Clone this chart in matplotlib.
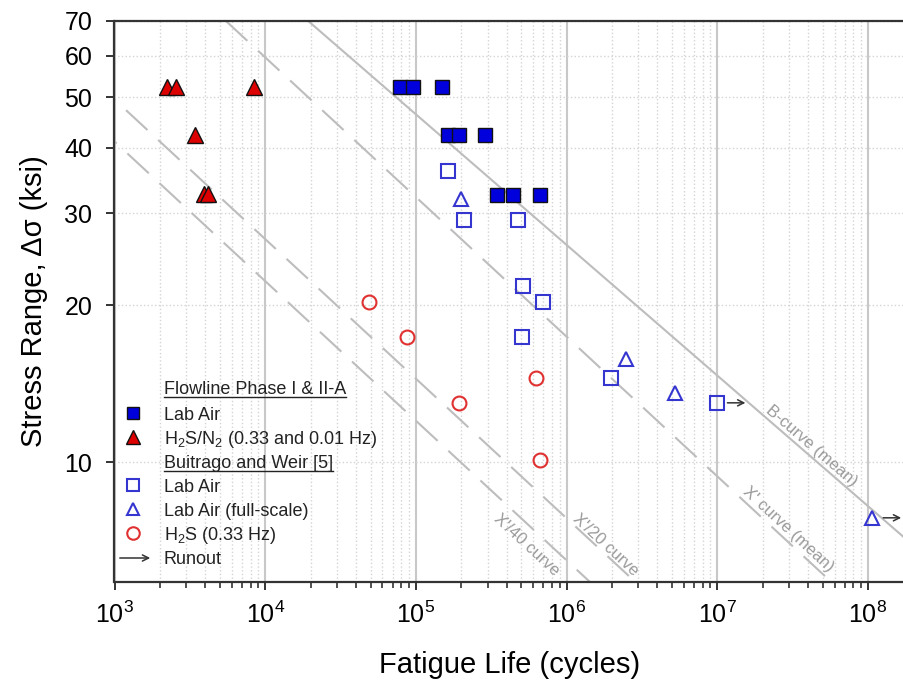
import matplotlib.pyplot as plt
import numpy as np
from matplotlib.ticker import LogLocator, FixedLocator, FixedFormatter, NullFormatter, NullLocator
from matplotlib.lines import Line2D

plt.rcParams['font.family'] = ['Liberation Sans', 'DejaVu Sans']
plt.rcParams['mathtext.fontset'] = 'custom'
plt.rcParams['mathtext.rm'] = 'Liberation Sans'
plt.rcParams['mathtext.it'] = 'Liberation Sans:italic'
plt.rcParams['mathtext.bf'] = 'Liberation Sans:bold'

# Flowline Phase I & II-A
flow_air_N = [78300, 96100, 149700, 164000, 194000, 287700, 343600, 442000, 665000]
flow_air_S = [52.4, 52.4, 52.4, 42.4, 42.4, 42.4, 32.5, 32.5, 32.5]
flow_h2s_N = [2220, 2560, 8440, 3420, 3930, 4190]
flow_h2s_S = [52.4, 52.4, 52.4, 42.4, 32.7, 32.7]

# Buitrago and Weir [5]
bw_air_N = [164000, 208000, 473000, 511000, 700000, 506000, 1.96e6, 9.9e6]
bw_air_S = [36.2, 29.1, 29.1, 21.8, 20.25, 17.4, 14.5, 13.0]
bw_full_N = [199000, 2.47e6, 5.25e6, 1.07e8]
bw_full_S = [32.0, 15.8, 13.6, 7.83]
bw_h2s_N = [48600, 87700, 194000, 627000, 665000]
bw_h2s_S = [20.3, 17.4, 13.0, 14.5, 10.1]

runout_N = [9.9e6, 1.07e8]
runout_S = [13.0, 7.83]

# S-N design curves (end points)
b_curve_N = [19300, 3.81e8]
b_curve_S = [70, 5.9]
xp_curve_N = [5490, 5.71e7]
xp_curve_S = [70, 5.9]
xp20_curve_N = [274, 2.86e6]
xp20_curve_S = [70, 5.9]
xp40_curve_N = [137, 1.43e6]
xp40_curve_S = [70, 5.9]

y_ticks = [10, 20, 30, 40, 50, 60, 70]

W, H = 904, 692
fig = plt.figure(figsize=(W / 100, H / 100), dpi=100)
x0, x1, y0, y1 = 114.5, 904, 21, 582
ax = fig.add_axes([x0 / W, 1 - y1 / H, (x1 - x0) / W, (y1 - y0) / H])
ax.set_xscale('log')
ax.set_yscale('log')
ax.set_xlim(1e3, 10 ** 8.239)
ax.set_ylim(5.9, 70)

# grid
ax.xaxis.set_major_locator(LogLocator(base=10, numticks=12))
ax.xaxis.set_minor_locator(LogLocator(base=10, subs=np.arange(2, 10), numticks=12))
ax.xaxis.set_minor_formatter(NullFormatter())
ax.yaxis.set_major_locator(FixedLocator(y_ticks))
ax.yaxis.set_major_formatter(FixedFormatter([str(v) for v in y_ticks]))
ax.yaxis.set_minor_locator(NullLocator())
ax.grid(which='major', axis='x', color='#c8c8c8', lw=1.5, ls='-')
ax.grid(which='minor', axis='x', color='#d4d4d4', lw=1, ls=':')
ax.grid(which='major', axis='y', color='#d4d4d4', lw=1, ls=':')
ax.set_axisbelow(True)

for s in ['left', 'bottom', 'top']:
    ax.spines[s].set_color('#333333')
    ax.spines[s].set_linewidth(1.6)
ax.spines['right'].set_visible(False)
ax.tick_params(which='major', direction='out', length=6, width=1.4, labelsize=18, color='#333333')
ax.tick_params(which='minor', direction='out', length=4, width=1.2, color='#333333')
ax.tick_params(axis='x', which='major', pad=8)
ax.tick_params(axis='y', which='major', pad=10)

# curves
curve_col = '#bdbdbd'
ax.plot(b_curve_N, b_curve_S, color=curve_col, lw=1.5, zorder=1)
for cn, cs in [(xp_curve_N, xp_curve_S), (xp20_curve_N, xp20_curve_S), (xp40_curve_N, xp40_curve_S)]:
    ax.plot(cn, cs, color=curve_col, lw=1.5, dashes=(14, 7), zorder=1)

lab_col = '#9a9a9a'
ax.text(10 ** 7.628, 10.73, 'B-curve (mean)', rotation=-40.8, rotation_mode='anchor',
        ha='center', va='center', fontsize=12, color=lab_col)
ax.text(10 ** 7.469, 7.44, "X' curve (mean)", rotation=-42.75, rotation_mode='anchor',
        ha='center', va='center', fontsize=12, color=lab_col)
ax.text(10 ** 6.261, 6.96, "X'/20 curve", rotation=-42.75, rotation_mode='anchor',
        ha='center', va='center', fontsize=12, color=lab_col)
ax.text(10 ** 5.737, 6.96, "X'/40 curve", rotation=-42.75, rotation_mode='anchor',
        ha='center', va='center', fontsize=12, color=lab_col)

# data
blue_f = '#0000dd'
red_f = '#dd0000'
blue_o = '#3535d0'
red_o = '#e03030'
ax.plot(flow_air_N, flow_air_S, 's', ms=10, mfc=blue_f, mec='#111111', mew=1, ls='none', zorder=3)
ax.plot(flow_h2s_N, flow_h2s_S, '^', ms=11, mfc=red_f, mec='#111111', mew=1, ls='none', zorder=3)
ax.plot(bw_air_N, bw_air_S, 's', ms=10, mfc='none', mec=blue_o, mew=1.5, ls='none', zorder=3)
ax.plot(bw_full_N, bw_full_S, '^', ms=10, mfc='none', mec=blue_o, mew=1.5, ls='none', zorder=3)
ax.plot(bw_h2s_N, bw_h2s_S, 'o', ms=10, mfc='none', mec=red_o, mew=1.5, ls='none', zorder=3)
for n, s in zip(runout_N, runout_S):
    ax.annotate('', xy=(n * 1.62, s), xytext=(n * 1.13, s),
                arrowprops=dict(arrowstyle='->', color='#333333', lw=1.1, mutation_scale=11))

ax.set_xlabel('Fatigue Life (cycles)', fontsize=21, labelpad=17)
ax.set_ylabel('Stress Range, \u0394\u03c3 (ksi)', fontsize=21, labelpad=12)

# legend drawn by hand
def ax_x(px):
    return (px - x0) / (x1 - x0)

def ax_y(py):
    return (y1 - py) / (y1 - y0)

mk_x = ax_x(133)
tx_x = ax_x(164)
rows = [388, 413, 437, 462, 485, 509, 533, 558]
legend_items = [
    ('Flowline Phase I & II-A', None),
    ('Lab Air', dict(marker='s', ms=9, mfc=blue_f, mec='#111111', mew=1)),
    ('H$_2$S/N$_2$ (0.33 and 0.01 Hz)', dict(marker='^', ms=10, mfc=red_f, mec='#111111', mew=1)),
    ('Buitrago and Weir [5]', None),
    ('Lab Air', dict(marker='s', ms=9, mfc='none', mec=blue_o, mew=1.5)),
    ('Lab Air (full-scale)', dict(marker='^', ms=9, mfc='none', mec=blue_o, mew=1.5)),
    ('H$_2$S (0.33 Hz)', dict(marker='o', ms=9, mfc='none', mec=red_o, mew=1.5)),
    ('Runout', 'arrow'),
]
headers = []
for (label, style), py in zip(legend_items, rows):
    t = ax.text(tx_x, ax_y(py + 6.5), label, transform=ax.transAxes, fontsize=13,
                ha='left', va='baseline', color='#222222')
    if style is None:
        headers.append((t, py))
    elif style == 'arrow':
        ax.annotate('', xy=(ax_x(153), ax_y(py)), xytext=(ax_x(117), ax_y(py)),
                    xycoords='axes fraction', textcoords='axes fraction',
                    arrowprops=dict(arrowstyle='->', color='#333333', lw=1.1, mutation_scale=11))
    else:
        ax.plot([mk_x], [ax_y(py)], transform=ax.transAxes, ls='none', clip_on=False, **style)

fig.canvas.draw()
renderer = fig.canvas.get_renderer()
for t, py in headers:
    bb = t.get_window_extent(renderer=renderer)
    yl = H - (py + 9)
    fig.add_artist(Line2D([bb.x0 / W, bb.x1 / W], [yl / H, yl / H], color='#222222', lw=1))

fig.savefig('out.png', dpi=100)
